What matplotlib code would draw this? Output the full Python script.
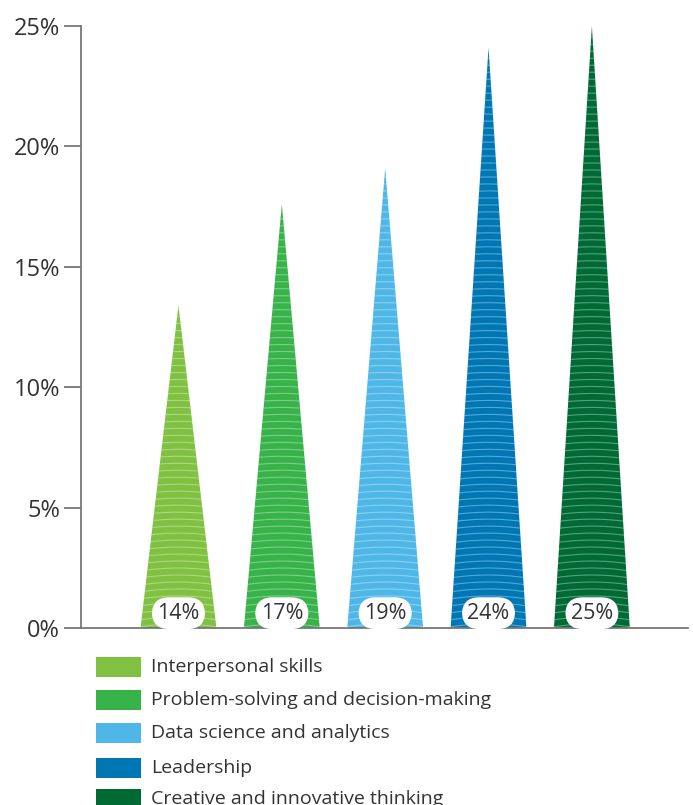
import matplotlib
matplotlib.use("Agg")
import matplotlib.pyplot as plt
import numpy as np
from matplotlib.patches import Polygon, Rectangle

plt.rcParams['font.family'] = ['Open Sans', 'DejaVu Sans']

categories = ["Interpersonal skills", "Problem-solving and decision-making",
              "Data science and analytics", "Leadership",
              "Creative and innovative thinking"]
values = [13.4, 17.6, 19.1, 24.1, 25.0]
labels = ["14%", "17%", "19%", "24%", "25%"]
colors = ["#80C141", "#37B34A", "#4FB7E7", "#0077B5", "#006A35"]
yticks = [0, 5, 10, 15, 20, 25]
ytick_labels = ["0%", "5%", "10%", "15%", "20%", "25%"]

W, H = 693, 805
fig = plt.figure(figsize=(W / 100, H / 100), dpi=100)
ax = fig.add_axes([81 / W, 1 - 628 / H, (688 - 81) / W, (628 - 26) / H])

half_w = 0.367  # half base width in category units
ax.set_xlim(-0.943, 4.93)
ax.set_ylim(0, 25)

for i, (v, c) in enumerate(zip(values, colors)):
    poly = Polygon([(i - half_w, 0), (i + half_w, 0), (i, v)], closed=True,
                   facecolor=c, edgecolor='none', zorder=2)
    ax.add_patch(poly)
    # decorative white arcs
    xs = np.linspace(i - half_w, i + half_w, 60)
    for y0 in np.arange(0.05, v, 0.29):
        ys = y0 + 0.12 * (1 - ((xs - i) / half_w) ** 2)
        ln, = ax.plot(xs, ys, color='white', lw=0.8, alpha=0.35, zorder=3)
        ln.set_clip_path(poly)
    ax.text(i, 0.72, labels[i], ha='center', va='center_baseline', fontsize=15.5,
            color='#333333', zorder=5,
            bbox=dict(boxstyle='round,pad=0.25,rounding_size=0.8',
                      facecolor='white', edgecolor='none'))

ax.set_yticks(yticks)
ax.set_yticklabels(ytick_labels)
ax.set_xticks([])
for s in ['top', 'right']:
    ax.spines[s].set_visible(False)
for s in ['left', 'bottom']:
    ax.spines[s].set_color('#777777')
    ax.spines[s].set_linewidth(1.3)
ax.tick_params(axis='y', length=12, width=1.3, color='#777777', pad=3,
               labelsize=17, labelcolor='#333333')

# legend
row_centers = [666.7, 700, 733.3, 767.7, 798.5]
for c, lab, yc in zip(colors, categories, row_centers):
    fig.add_artist(Rectangle((96 / W, 1 - (yc + 10) / H), 45 / W, 20 / H,
                             transform=fig.transFigure, facecolor=c,
                             edgecolor='none'))
    fig.text(151 / W, 1 - yc / H, lab, ha='left', va='center', fontsize=14,
             color='#333333')

fig.savefig("out.png", dpi=100)
